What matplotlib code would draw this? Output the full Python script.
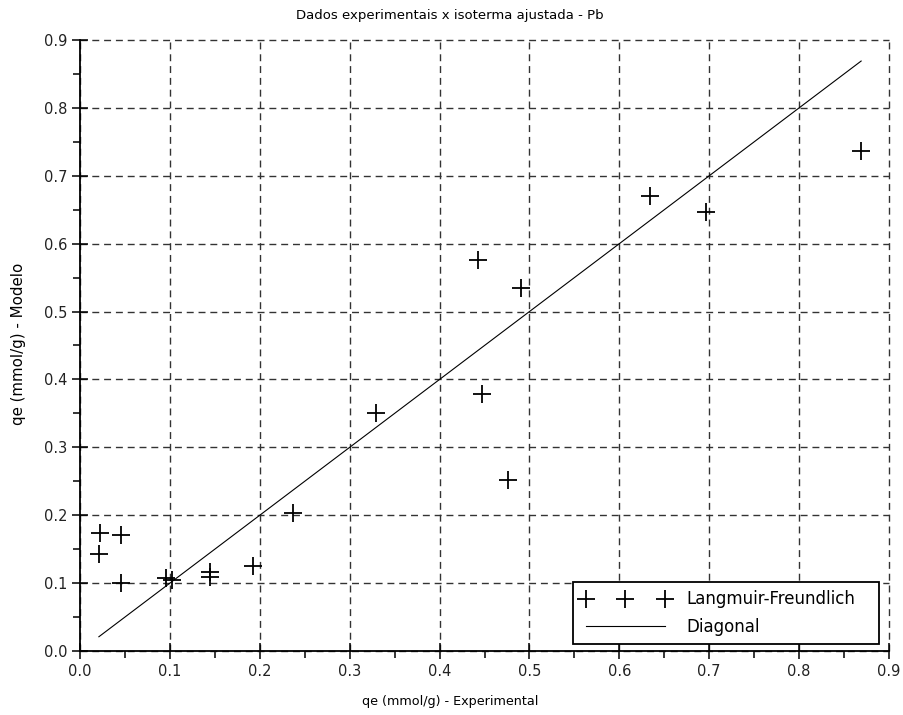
import numpy as np
import matplotlib
matplotlib.use("Agg")
import matplotlib.pyplot as plt

plt.rcParams['font.family'] = ['DejaVu Sans']

# Experimental vs model values (mmol/g)
qe_exp = [0.022, 0.046, 0.021, 0.046, 0.096, 0.102, 0.145, 0.145, 0.193, 0.237,
          0.329, 0.443, 0.447, 0.476, 0.491, 0.634, 0.696, 0.869]
qe_mod = [0.174, 0.171, 0.143, 0.100, 0.107, 0.105, 0.117, 0.109, 0.125, 0.203,
          0.350, 0.576, 0.378, 0.252, 0.534, 0.670, 0.646, 0.737]

ticks = np.round(np.arange(0, 0.91, 0.1), 1)
tick_labels = ["%.1f" % t for t in ticks]

fig = plt.figure(figsize=(9.04, 7.15), dpi=100)
ax = fig.add_axes([80 / 904, 1 - 651 / 715, 809 / 904, 611 / 715])

ax.plot(qe_exp, qe_mod, linestyle='none', marker='+', markersize=13,
        markeredgewidth=1.3, color='black', label='Langmuir-Freundlich')
diag = [min(qe_exp), max(qe_exp)]
ax.plot(diag, diag, color='black', linewidth=0.8, label='Diagonal')

ax.set_xlim(0, 0.9)
ax.set_ylim(0, 0.9)
ax.set_xticks(ticks)
ax.set_yticks(ticks)
ax.set_xticklabels(tick_labels)
ax.set_yticklabels(tick_labels)
ax.set_xticks(np.arange(0.05, 0.9, 0.1), minor=True)
ax.set_yticks(np.arange(0.05, 0.9, 0.1), minor=True)
ax.tick_params(which='major', direction='inout', length=12, width=1.1, labelsize=10.5,
               pad=3, labelcolor='#222222')
ax.tick_params(which='minor', direction='out', length=5, width=1.1)

ax.grid(True, which='major', color='#333333', linewidth=1.0, linestyle=(0, (5, 3.5)))
for gl in ax.get_xgridlines() + ax.get_ygridlines():
    gl.set_clip_on(False)

ax.spines['top'].set_visible(False)
ax.spines['right'].set_visible(False)
ax.spines['left'].set_linewidth(1.3)
ax.spines['bottom'].set_linewidth(1.3)

# legend box stretched to the width used in the original
leg = ax.legend(loc='lower left', bbox_to_anchor=(493 / 809, 7 / 611, 306 / 809, 0.1),
                mode='expand', borderaxespad=0,
                numpoints=3, handlelength=5.3, fontsize=12,
                fancybox=False, framealpha=1, edgecolor='black',
                borderpad=0.5, handletextpad=1.0, labelspacing=0.55)
leg.get_frame().set_linewidth(1.3)

fig.text(0.498, 1 - 15 / 715, 'Dados experimentais x isoterma ajustada - Pb',
         ha='center', va='center', fontsize=9.5)
fig.text(0.498, 1 - 701 / 715, 'qe (mmol/g) - Experimental',
         ha='center', va='center', fontsize=9.2)
fig.text(19 / 904, 1 - 344 / 715, 'qe (mmol/g) - Modelo',
         ha='center', va='center', rotation=90, fontsize=10.8)

plt.savefig('out.png', dpi=100)
